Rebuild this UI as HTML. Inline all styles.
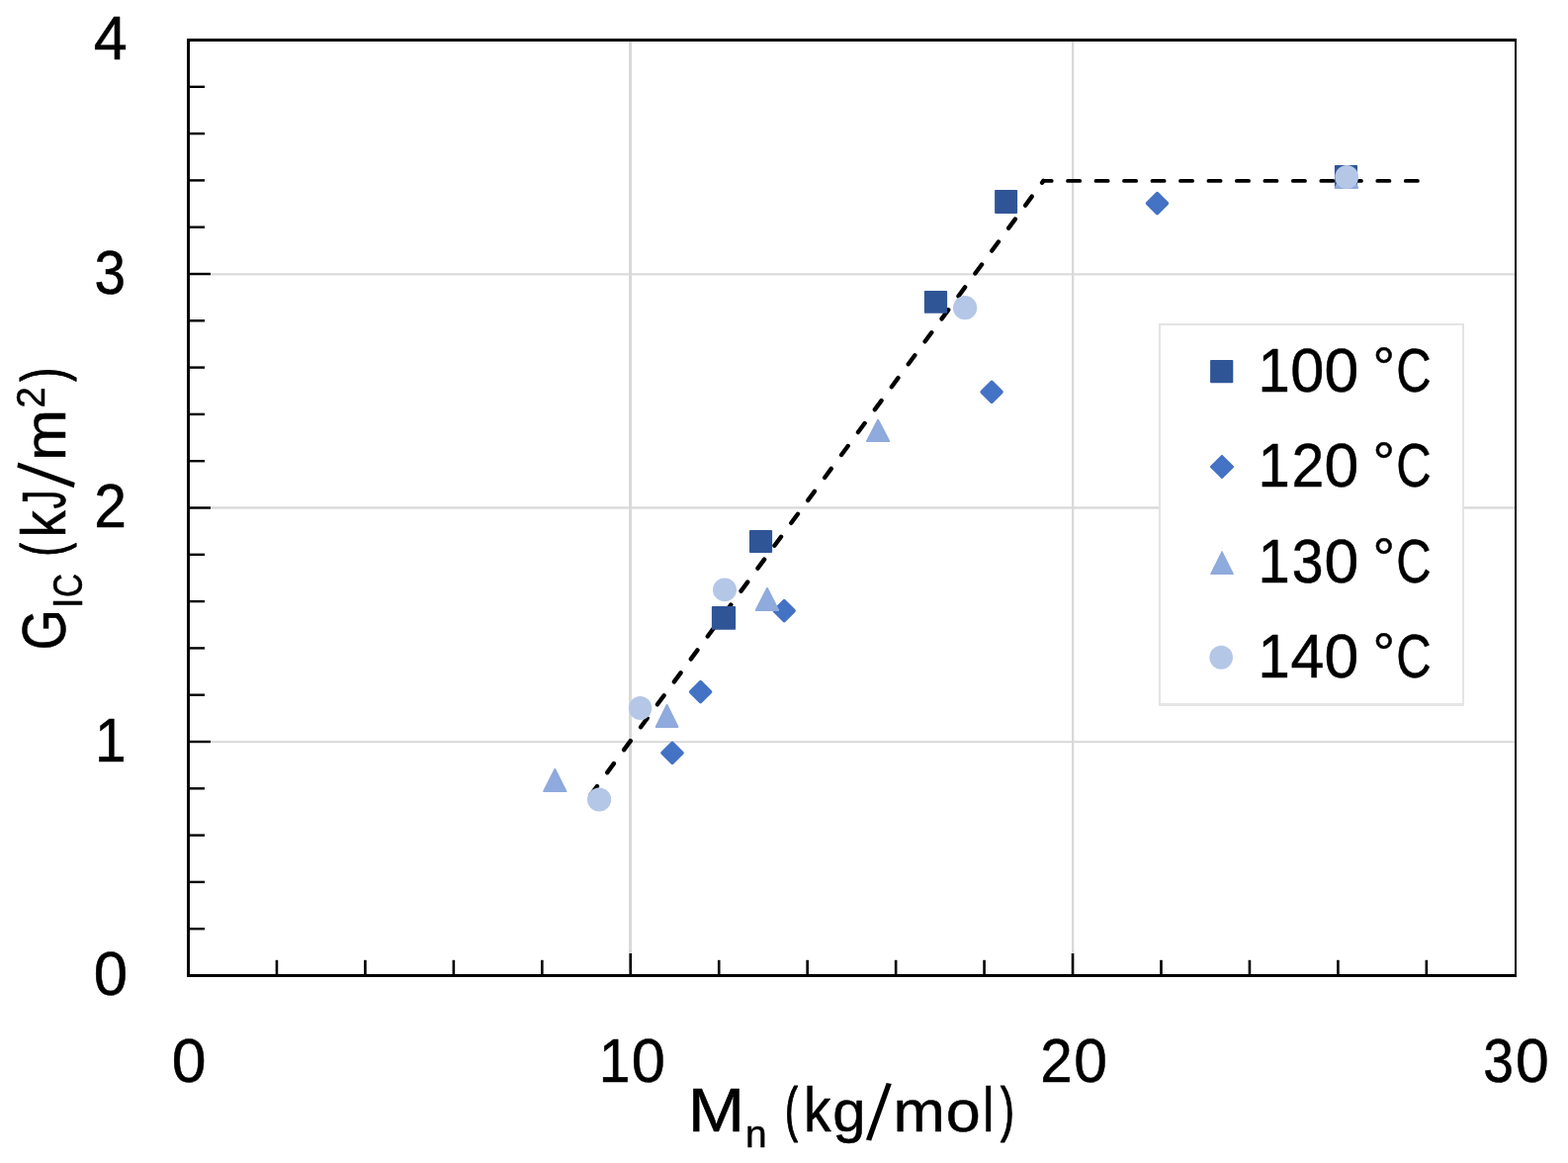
<!DOCTYPE html>
<html lang="en">
<head>
<meta charset="utf-8">
<title>GIC vs Mn</title>
<style>
html,body{margin:0;padding:0;background:#fff;}
body{width:1586px;height:1176px;overflow:hidden;font-family:"Liberation Sans", sans-serif;}
svg{display:block;}
</style>
</head>
<body>
<svg width="1586" height="1176" viewBox="0 0 1586 1176" font-family='"Liberation Sans", sans-serif'>
<rect x="0" y="0" width="1586" height="1176" fill="#fff"/>
<g fill="#d9d9d9">
<rect x="636.0" y="42" width="3.10" height="943"/>
<rect x="1084.0" y="42" width="2.30" height="943"/>
<rect x="192" y="276.3" width="1340" height="2.10"/>
<rect x="192" y="512.3" width="1340" height="2.30"/>
<rect x="192" y="749.2" width="1340" height="2.00"/>
</g>
<g fill="none" stroke="#000" stroke-linecap="round">
<path d="M596.4 805.3 L1055.4 182.9" stroke-width="4.4" stroke-dasharray="11.2 17.3" stroke-dashoffset="-1.55"/>
<path d="M1055.4 182.9 L1443 182.9" stroke-width="3.9" stroke-dasharray="12.1 16.375" stroke-dashoffset="3.8"/>
</g>
<g>
<rect x="719.90" y="613.00" width="24.20" height="23.80" rx="0.8" fill="#2f5597"/>
<rect x="758.00" y="536.00" width="23.10" height="23.00" rx="0.8" fill="#2f5597"/>
<rect x="934.90" y="294.10" width="23.20" height="22.70" rx="0.8" fill="#2f5597"/>
<rect x="1006.10" y="192.00" width="23.00" height="23.90" rx="0.8" fill="#2f5597"/>
<rect x="1349.90" y="167.00" width="23.15" height="23.90" rx="0.8" fill="#2f5597"/>
<path d="M680.00 751.50L689.80 761.30L680.00 771.10L670.20 761.30Z" fill="#4472c4" stroke="#4472c4" stroke-width="3.8" stroke-linejoin="round"/>
<path d="M708.60 689.80L718.40 699.60L708.60 709.40L698.80 699.60Z" fill="#4472c4" stroke="#4472c4" stroke-width="3.8" stroke-linejoin="round"/>
<path d="M793.20 607.80L803.00 617.60L793.20 627.40L783.40 617.60Z" fill="#4472c4" stroke="#4472c4" stroke-width="3.8" stroke-linejoin="round"/>
<path d="M1003.10 386.50L1012.90 396.30L1003.10 406.10L993.30 396.30Z" fill="#4472c4" stroke="#4472c4" stroke-width="3.8" stroke-linejoin="round"/>
<path d="M1170.50 195.80L1180.30 205.60L1170.50 215.40L1160.70 205.60Z" fill="#4472c4" stroke="#4472c4" stroke-width="3.8" stroke-linejoin="round"/>
<path d="M561.30 778.00L572.50 800.10L550.10 800.10Z" fill="#8faadc" stroke="#8faadc" stroke-width="2.0" stroke-linejoin="round"/>
<path d="M674.60 713.00L685.45 734.90L663.75 734.90Z" fill="#8faadc" stroke="#8faadc" stroke-width="2.0" stroke-linejoin="round"/>
<path d="M776.00 595.00L787.20 617.00L764.80 617.00Z" fill="#8faadc" stroke="#8faadc" stroke-width="2.0" stroke-linejoin="round"/>
<path d="M888.10 424.80L899.30 446.10L876.90 446.10Z" fill="#8faadc" stroke="#8faadc" stroke-width="2.0" stroke-linejoin="round"/>
<path d="M1362.00 167.90L1373.20 189.90L1350.80 189.90Z" fill="#8faadc" stroke="#8faadc" stroke-width="2.0" stroke-linejoin="round"/>
<ellipse cx="606.10" cy="808.60" rx="12.1" ry="12.0" fill="#b4c7e7"/>
<ellipse cx="647.60" cy="716.00" rx="11.7" ry="12.1" fill="#b4c7e7"/>
<ellipse cx="733.00" cy="596.40" rx="12.0" ry="11.9" fill="#b4c7e7"/>
<ellipse cx="976.10" cy="311.20" rx="12.1" ry="12.1" fill="#b4c7e7"/>
<ellipse cx="1362.20" cy="179.00" rx="11.9" ry="12.0" fill="#b4c7e7"/>
</g>
<g fill="#000">
<rect x="189" y="39" width="3" height="949"/>
<rect x="189" y="39" width="1345" height="3"/>
<rect x="189" y="985" width="1345" height="3"/>
<rect x="1532" y="39" width="2" height="949"/>
<rect x="192" y="938.00" width="15" height="2.4"/>
<rect x="192" y="890.70" width="15" height="2.4"/>
<rect x="192" y="843.40" width="15" height="2.4"/>
<rect x="192" y="796.10" width="15" height="2.4"/>
<rect x="192" y="748.80" width="21" height="2.4"/>
<rect x="192" y="701.50" width="15" height="2.4"/>
<rect x="192" y="654.20" width="15" height="2.4"/>
<rect x="192" y="606.90" width="15" height="2.4"/>
<rect x="192" y="559.60" width="15" height="2.4"/>
<rect x="192" y="512.30" width="21" height="2.4"/>
<rect x="192" y="465.00" width="15" height="2.4"/>
<rect x="192" y="417.70" width="15" height="2.4"/>
<rect x="192" y="370.40" width="15" height="2.4"/>
<rect x="192" y="323.10" width="15" height="2.4"/>
<rect x="192" y="275.80" width="21" height="2.4"/>
<rect x="192" y="228.50" width="15" height="2.4"/>
<rect x="192" y="181.20" width="15" height="2.4"/>
<rect x="192" y="133.90" width="15" height="2.4"/>
<rect x="192" y="86.60" width="15" height="2.4"/>
<rect x="278.65" y="970.8" width="2.6" height="14.2"/>
<rect x="368.11" y="970.8" width="2.6" height="14.2"/>
<rect x="457.56" y="970.8" width="2.6" height="14.2"/>
<rect x="547.01" y="970.8" width="2.6" height="14.2"/>
<rect x="636.47" y="964" width="2.6" height="21"/>
<rect x="725.92" y="970.8" width="2.6" height="14.2"/>
<rect x="815.37" y="970.8" width="2.6" height="14.2"/>
<rect x="904.83" y="970.8" width="2.6" height="14.2"/>
<rect x="994.28" y="970.8" width="2.6" height="14.2"/>
<rect x="1083.73" y="964" width="2.6" height="21"/>
<rect x="1173.19" y="970.8" width="2.6" height="14.2"/>
<rect x="1262.64" y="970.8" width="2.6" height="14.2"/>
<rect x="1352.09" y="970.8" width="2.6" height="14.2"/>
<rect x="1441.55" y="970.8" width="2.6" height="14.2"/>
</g>
<rect x="1172" y="327" width="309" height="387" fill="#e4e4e4"/>
<rect x="1174.1" y="329.1" width="304.9" height="381.9" fill="#fff"/>
<rect x="1224.10" y="363.90" width="23.2" height="23.4" rx="0.8" fill="#2f5597"/>
<path d="M1236.00 460.90L1247.10 472.00L1236.00 483.10L1224.90 472.00Z" fill="#4472c4" stroke="#4472c4" stroke-width="2.0" stroke-linejoin="round"/>
<path d="M1236.00 557.50L1247.50 580.50L1224.50 580.50Z" fill="#8faadc" stroke="#8faadc" stroke-width="1.0" stroke-linejoin="round"/>
<ellipse cx="1235.20" cy="664.70" rx="11.8" ry="12.0" fill="#b4c7e7"/>
<text id="leg0" y="396.1" fill="#000"><tspan x="1272.43" font-size="62.5" textLength="32.25" lengthAdjust="spacingAndGlyphs" stroke="#000" stroke-width="0.5" stroke-linejoin="round">1</tspan><tspan x="1305.26" font-size="62.5" textLength="34.09" lengthAdjust="spacingAndGlyphs" stroke="#000" stroke-width="0.5" stroke-linejoin="round">0</tspan><tspan x="1339.41" font-size="62.5" stroke="#000" stroke-width="0.5" stroke-linejoin="round">0</tspan><tspan font-size="62.5"> </tspan><tspan x="1388.47" font-size="56.4" dy="-6.00" stroke="#000" stroke-width="0.5" stroke-linejoin="round">°</tspan><tspan x="1412.36" font-size="62.5" dy="6.00" textLength="35.46" lengthAdjust="spacingAndGlyphs" stroke="#000" stroke-width="0.5" stroke-linejoin="round">C</tspan></text>
<text id="leg1" y="492.2" fill="#000"><tspan x="1272.43" font-size="62.5" textLength="32.25" lengthAdjust="spacingAndGlyphs" stroke="#000" stroke-width="0.5" stroke-linejoin="round">1</tspan><tspan x="1306.38" font-size="62.5" textLength="32.84" lengthAdjust="spacingAndGlyphs" stroke="#000" stroke-width="0.5" stroke-linejoin="round">2</tspan><tspan x="1339.41" font-size="62.5" stroke="#000" stroke-width="0.5" stroke-linejoin="round">0</tspan><tspan font-size="62.5"> </tspan><tspan x="1388.47" font-size="56.4" dy="-6.00" stroke="#000" stroke-width="0.5" stroke-linejoin="round">°</tspan><tspan x="1412.36" font-size="62.5" dy="6.00" textLength="35.46" lengthAdjust="spacingAndGlyphs" stroke="#000" stroke-width="0.5" stroke-linejoin="round">C</tspan></text>
<text id="leg2" y="588.8" fill="#000"><tspan x="1272.43" font-size="62.5" textLength="32.25" lengthAdjust="spacingAndGlyphs" stroke="#000" stroke-width="0.5" stroke-linejoin="round">1</tspan><tspan x="1306.77" font-size="62.5" textLength="31.79" lengthAdjust="spacingAndGlyphs" stroke="#000" stroke-width="0.5" stroke-linejoin="round">3</tspan><tspan x="1339.41" font-size="62.5" stroke="#000" stroke-width="0.5" stroke-linejoin="round">0</tspan><tspan font-size="62.5"> </tspan><tspan x="1388.47" font-size="56.4" dy="-6.00" stroke="#000" stroke-width="0.5" stroke-linejoin="round">°</tspan><tspan x="1412.36" font-size="62.5" dy="6.00" textLength="35.46" lengthAdjust="spacingAndGlyphs" stroke="#000" stroke-width="0.5" stroke-linejoin="round">C</tspan></text>
<text id="leg3" y="684.8" fill="#000"><tspan x="1272.43" font-size="62.5" textLength="32.25" lengthAdjust="spacingAndGlyphs" stroke="#000" stroke-width="0.5" stroke-linejoin="round">1</tspan><tspan x="1305.45" font-size="62.5" textLength="33.88" lengthAdjust="spacingAndGlyphs" stroke="#000" stroke-width="0.5" stroke-linejoin="round">4</tspan><tspan x="1339.41" font-size="62.5" stroke="#000" stroke-width="0.5" stroke-linejoin="round">0</tspan><tspan font-size="62.5"> </tspan><tspan x="1388.47" font-size="56.4" dy="-6.00" stroke="#000" stroke-width="0.5" stroke-linejoin="round">°</tspan><tspan x="1412.36" font-size="62.5" dy="6.00" textLength="35.46" lengthAdjust="spacingAndGlyphs" stroke="#000" stroke-width="0.5" stroke-linejoin="round">C</tspan></text>
<text id="yl4" y="59.9" fill="#000"><tspan x="94.75" font-size="62.5" textLength="33.99" lengthAdjust="spacingAndGlyphs" stroke="#000" stroke-width="0.5" stroke-linejoin="round">4</tspan></text>
<text id="yl3" y="296.5" fill="#000"><tspan x="95.59" font-size="62.5" textLength="31.55" lengthAdjust="spacingAndGlyphs" stroke="#000" stroke-width="0.5" stroke-linejoin="round">3</tspan></text>
<text id="yl2" y="533.1" fill="#000"><tspan x="95.19" font-size="62.5" textLength="32.72" lengthAdjust="spacingAndGlyphs" stroke="#000" stroke-width="0.5" stroke-linejoin="round">2</tspan></text>
<text id="yl1" y="769.6" fill="#000"><tspan x="96.12" font-size="62.5" textLength="31.60" lengthAdjust="spacingAndGlyphs" stroke="#000" stroke-width="0.5" stroke-linejoin="round">1</tspan></text>
<text id="yl0" y="1006.1" fill="#000"><tspan x="94.79" font-size="62.5" textLength="34.32" lengthAdjust="spacingAndGlyphs" stroke="#000" stroke-width="0.5" stroke-linejoin="round">0</tspan></text>
<text id="xl0" y="1093.7" fill="#000"><tspan x="173.72" font-size="62.5" stroke="#000" stroke-width="0.5" stroke-linejoin="round">0</tspan></text>
<text id="xl10" y="1093.7" fill="#000"><tspan x="605.70" font-size="62.5" textLength="31.73" lengthAdjust="spacingAndGlyphs" stroke="#000" stroke-width="0.5" stroke-linejoin="round">1</tspan><tspan x="638.65" font-size="62.5" textLength="34.20" lengthAdjust="spacingAndGlyphs" stroke="#000" stroke-width="0.5" stroke-linejoin="round">0</tspan></text>
<text id="xl20" y="1093.7" fill="#000"><tspan x="1052.21" font-size="62.5" textLength="32.47" lengthAdjust="spacingAndGlyphs" stroke="#000" stroke-width="0.5" stroke-linejoin="round">2</tspan><tspan x="1086.18" font-size="62.5" textLength="33.74" lengthAdjust="spacingAndGlyphs" stroke="#000" stroke-width="0.5" stroke-linejoin="round">0</tspan></text>
<text id="xl30" y="1093.7" fill="#000"><tspan x="1500.15" font-size="62.5" textLength="30.73" lengthAdjust="spacingAndGlyphs" stroke="#000" stroke-width="0.5" stroke-linejoin="round">3</tspan><tspan x="1533.08" font-size="62.5" textLength="33.74" lengthAdjust="spacingAndGlyphs" stroke="#000" stroke-width="0.5" stroke-linejoin="round">0</tspan></text>
<text id="xt" y="1144.1" fill="#000"><tspan x="695.80" font-size="62.5" textLength="57.41" lengthAdjust="spacingAndGlyphs" stroke="#000" stroke-width="0.5" stroke-linejoin="round">M</tspan><tspan x="753.97" font-size="39.5" dy="16.00" textLength="21.60" lengthAdjust="spacingAndGlyphs" stroke="#000" stroke-width="0.5" stroke-linejoin="round">n</tspan><tspan font-size="62.5" dy="-16.00"> </tspan><tspan x="793.97" font-size="61" dy="-2.00" textLength="13.06" lengthAdjust="spacingAndGlyphs" stroke="#000" stroke-width="1.2" stroke-linejoin="round">(</tspan><tspan x="812.94" font-size="62.5" dy="2.00" textLength="27.53" lengthAdjust="spacingAndGlyphs" stroke="#000" stroke-width="0.5" stroke-linejoin="round">k</tspan><tspan x="842.31" font-size="60.0" stroke="#000" stroke-width="0.5" stroke-linejoin="round">g</tspan><tspan x="876.10" font-size="82.5" dy="7.60" rotate="8.5" textLength="18.79" lengthAdjust="spacingAndGlyphs">/</tspan><tspan x="903.48" font-size="60.0" dy="-7.60" textLength="52.31" lengthAdjust="spacingAndGlyphs" stroke="#000" stroke-width="0.5" stroke-linejoin="round">m</tspan><tspan x="956.71" font-size="60.0" textLength="34.98" lengthAdjust="spacingAndGlyphs" stroke="#000" stroke-width="0.5" stroke-linejoin="round">o</tspan><tspan x="994.10" font-size="62.5" textLength="11.38" lengthAdjust="spacingAndGlyphs" stroke="#000" stroke-width="0.5" stroke-linejoin="round">l</tspan><tspan x="1012.05" font-size="61" dy="-2.00" textLength="13.94" lengthAdjust="spacingAndGlyphs" stroke="#000" stroke-width="1.2" stroke-linejoin="round">)</tspan></text>
<text id="yt" transform="translate(66.4 700.0) rotate(-90)" y="0" fill="#000"><tspan x="42.48" font-size="62.5" textLength="41.34" lengthAdjust="spacingAndGlyphs" stroke="#000" stroke-width="0.5" stroke-linejoin="round">G</tspan><tspan x="85.09" font-size="41.7" dy="16.10" textLength="10.43" lengthAdjust="spacingAndGlyphs" stroke="#000" stroke-width="0.5" stroke-linejoin="round">I</tspan><tspan x="95.97" font-size="41.7" textLength="23.95" lengthAdjust="spacingAndGlyphs" stroke="#000" stroke-width="0.5" stroke-linejoin="round">C</tspan><tspan font-size="62.5" dy="-16.10"> </tspan><tspan x="137.40" font-size="61" dy="-2.00" textLength="13.44" lengthAdjust="spacingAndGlyphs" stroke="#000" stroke-width="1.2" stroke-linejoin="round">(</tspan><tspan x="156.57" font-size="62.5" dy="2.00" textLength="27.30" lengthAdjust="spacingAndGlyphs" stroke="#000" stroke-width="0.5" stroke-linejoin="round">k</tspan><tspan x="185.56" font-size="62.5" textLength="18.77" lengthAdjust="spacingAndGlyphs" stroke="#000" stroke-width="0.5" stroke-linejoin="round">J</tspan><tspan x="206.70" font-size="82.5" dy="7.60" rotate="8.5" textLength="18.79" lengthAdjust="spacingAndGlyphs">/</tspan><tspan x="234.10" font-size="60.0" dy="-7.60" textLength="52.07" lengthAdjust="spacingAndGlyphs" stroke="#000" stroke-width="0.5" stroke-linejoin="round">m</tspan><tspan x="287.53" font-size="41.2" dy="-21.40" textLength="21.24" lengthAdjust="spacingAndGlyphs" stroke="#000" stroke-width="0.5" stroke-linejoin="round">2</tspan><tspan x="314.36" font-size="61" dy="19.40" textLength="13.82" lengthAdjust="spacingAndGlyphs" stroke="#000" stroke-width="1.2" stroke-linejoin="round">)</tspan></text>
</svg>
</body>
</html>
